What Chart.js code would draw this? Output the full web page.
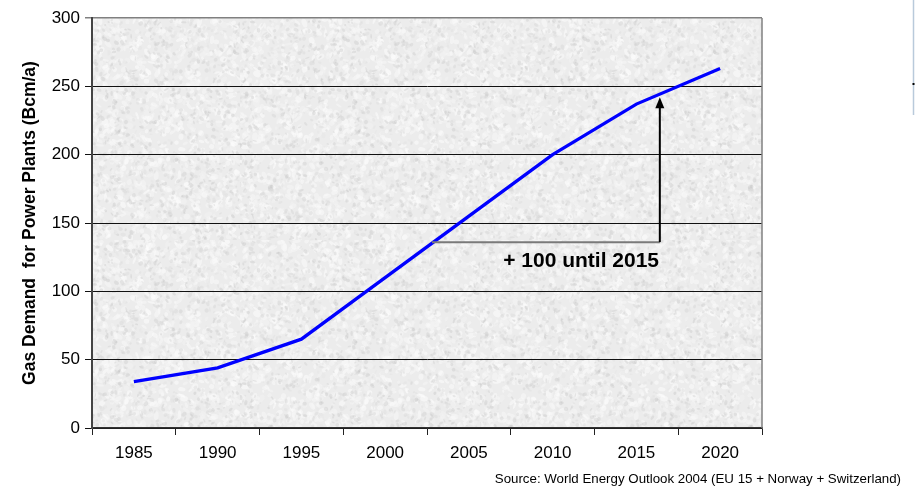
<!DOCTYPE html>
<html>
<head>
<meta charset="utf-8">
<script src="https://cdn.jsdelivr.net/npm/chart.js@4.4.1/dist/chart.umd.min.js"></script>
<style>
  html, body { margin: 0; padding: 0; background: #fff; }
  #wrap { width: 921px; height: 490px; position: relative; }
</style>
</head>
<body>
<div id="wrap"><canvas id="gasChart" width="921" height="490"></canvas></div>
<script>
// data
let years = ['1985', '1990', '1995', '2000', '2005', '2010', '2015', '2020'];
let gasDemand = [34, 44, 65, 110, 155, 200, 237, 263];
let yTicks = [0, 50, 100, 150, 200, 250, 300];

// annotation (+100 until 2015), in data units
let noteYears = [2002.8, 2016.4];   // start of grey line, arrow position
let noteValues = [136, 242];        // grey line level, arrow tip
let noteText = '+ 100 until 2015';
let notePos = [2011.7, 122];

let sourceText = 'Source: World Energy Outlook 2004 (EU 15 + Norway + Switzerland)';

function yearToIndex(y){
    return (y - 1985) / 5;
}

// granite-like background pattern, seeded so it is the same each time
function makeTexture(){
    let c = document.createElement('canvas');
    c.width = 240;
    c.height = 240;
    let g = c.getContext('2d');
    g.fillStyle = '#ececec';
    g.fillRect(0, 0, 240, 240);
    let seed = 12345;
    let rnd = function(){
        seed = (seed * 1103515245 + 12345) % 2147483648;
        return seed / 2147483648;
    };
    // light patches
    for(let i = 0; i < 1800; i++){
        let x = rnd() * 240;
        let y = rnd() * 240;
        let shade = Math.floor(242 + rnd() * 13);
        g.fillStyle = 'rgba(' + shade + ',' + shade + ',' + shade + ',0.55)';
        g.beginPath();
        g.ellipse(x, y, 1.5 + rnd() * 3, 1 + rnd() * 2, rnd() * 3, 0, Math.PI * 2);
        g.fill();
    }
    // grey specks
    for(let i = 0; i < 1700; i++){
        let x = rnd() * 240;
        let y = rnd() * 240;
        let shade = Math.floor(195 + rnd() * 35);
        g.fillStyle = 'rgba(' + shade + ',' + shade + ',' + shade + ',0.38)';
        g.beginPath();
        g.ellipse(x, y, 0.8 + rnd() * 2, 0.6 + rnd() * 1.5, rnd() * 3, 0, Math.PI * 2);
        g.fill();
    }
    return c;
}

let texturePlugin = {
    id: 'texture',
    beforeDraw(chart){
        let ctx = chart.ctx;
        let a = chart.chartArea;
        ctx.save();
        ctx.fillStyle = '#fff';
        ctx.fillRect(0, 0, chart.width, chart.height);
        ctx.fillStyle = ctx.createPattern(makeTexture(), 'repeat');
        ctx.fillRect(a.left, a.top, a.right - a.left, a.bottom - a.top);
        ctx.restore();
    }
};

let notePlugin = {
    id: 'note',
    afterDatasetsDraw(chart){
        let ctx = chart.ctx;
        let xs = chart.scales.x;
        let ys = chart.scales.y;
        let a = chart.chartArea;
        let x1 = xs.getPixelForValue(yearToIndex(noteYears[0]));
        let x2 = xs.getPixelForValue(yearToIndex(noteYears[1]));
        let yLow = ys.getPixelForValue(noteValues[0]);
        let yTip = ys.getPixelForValue(noteValues[1]);
        ctx.save();
        // right border of the plot
        ctx.strokeStyle = '#808080';
        ctx.lineWidth = 1.5;
        ctx.beginPath();
        ctx.moveTo(a.right, a.top);
        ctx.lineTo(a.right, a.bottom);
        ctx.stroke();

        // grey level line
        ctx.strokeStyle = '#7a7a7a';
        ctx.lineWidth = 2;
        ctx.beginPath();
        ctx.moveTo(x1, yLow);
        ctx.lineTo(x2, yLow);
        ctx.stroke();
        // arrow
        ctx.strokeStyle = '#000';
        ctx.beginPath();
        ctx.moveTo(x2, yLow);
        ctx.lineTo(x2, yTip + 8);
        ctx.stroke();
        ctx.fillStyle = '#000';
        ctx.beginPath();
        ctx.moveTo(x2, yTip);
        ctx.lineTo(x2 - 4.5, yTip + 11);
        ctx.lineTo(x2 + 4.5, yTip + 11);
        ctx.closePath();
        ctx.fill();

        ctx.font = 'bold 21px "Liberation Sans", Arial, sans-serif';
        ctx.textAlign = 'center';
        ctx.textBaseline = 'middle';
        ctx.fillText(noteText, xs.getPixelForValue(yearToIndex(notePos[0])), ys.getPixelForValue(notePos[1]));

        // source line
        ctx.font = '13.3px "Liberation Sans", Arial, sans-serif';
        ctx.textAlign = 'right';
        ctx.fillText(sourceText, 901, 479);

        // bit of a neighbouring frame at the right edge
        ctx.strokeStyle = '#b9cadb';
        ctx.lineWidth = 1.5;
        ctx.beginPath();
        ctx.moveTo(913.5, 0);
        ctx.lineTo(913.5, 115);
        ctx.stroke();
        ctx.fillStyle = '#000';
        ctx.fillRect(912.5, 83, 2, 2);
        ctx.restore();
    }
};

let tickFont = { family: '"Liberation Sans", Arial, sans-serif', size: 17 };

new Chart(document.getElementById('gasChart'), {
    type: 'line',
    data: {
        labels: years,
        datasets: [{
            data: gasDemand,
            borderColor: '#0000ff',
            borderWidth: 3.3,
            pointRadius: 0,
            tension: 0,
            fill: false
        }]
    },
    options: {
        responsive: false,
        animation: false,
        devicePixelRatio: 1,
        layout: { padding: { top: 18, right: 159, bottom: 0, left: 0 } },
        plugins: {
            legend: { display: false },
            tooltip: { enabled: false }
        },
        scales: {
            x: {
                type: 'category',
                offset: true,
                grid: { offset: true, drawOnChartArea: false, color: '#222', tickLength: 7, lineWidth: 1 },
                border: { color: '#333', width: 1.5 },
                ticks: { color: '#000', font: tickFont, padding: 8, maxRotation: 0 },
                afterFit(scale){ scale.height = 62; }
            },
            y: {
                min: 0,
                max: 300,
                afterBuildTicks(scale){
                    scale.ticks = yTicks.map(v => ({ value: v }));
                },
                grid: {
                    color: ctx => (ctx.tick && ctx.tick.value === 300) ? '#808080' : '#111',
                    lineWidth: ctx => (ctx.tick && ctx.tick.value === 300) ? 1.5 : 1,
                    tickLength: 7
                },
                border: { color: '#444', width: 2 },
                ticks: { color: '#000', font: tickFont, padding: 5 },
                title: {
                    display: true,
                    text: 'Gas Demand  for Power Plants (Bcm/a)',
                    color: '#000',
                    font: { family: '"Liberation Sans", Arial, sans-serif', size: 17.5, weight: 'bold' },
                    padding: { top: 20, bottom: 0 }
                },
                afterFit(scale){ scale.width = 92; }
            }
        }
    },
    plugins: [texturePlugin, notePlugin]
});
</script>
</body>
</html>
